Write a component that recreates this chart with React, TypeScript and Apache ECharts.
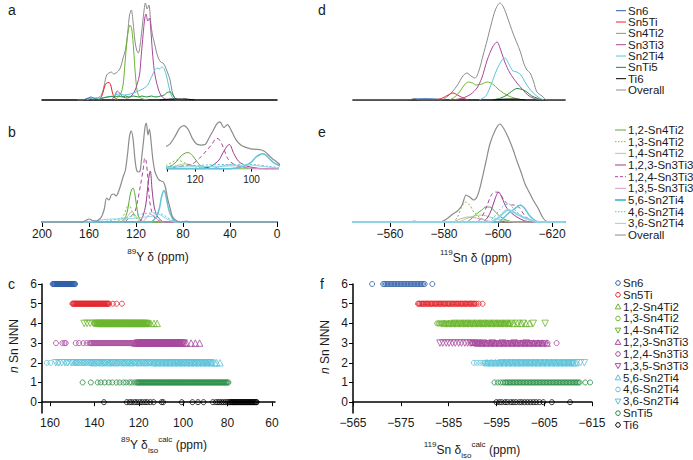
import React, { useEffect, useRef } from "react";
import * as echarts from "echarts";

const FONT = "'Liberation Sans', Arial, Helvetica, sans-serif";

// ---------- Panel a : 89Y spectra by composition (ppm, intensity) ----------
const aOverall = [[170,0],[165,0],[162,1.5],[160,2],[157,1],[154,1.5],[151,3],[149,6],[147,15],[145,25],[143,27],[141,28],[139,26],[137,27],[135,29],[133,33],[131,42],[129,50],[127,68],[125.5,85],[124,90],[122.5,78],[121,60],[119.5,50],[118,47],[116.5,55],[115,70],[113.5,86],[112,97],[110.5,91],[109,95],[107.5,78],[106,65],[104.5,58],[103,50],[101,42],[99,38],[97,37],[95,33],[93,27],[91,20],[89.5,10],[88,4],[86,1],[83,0],[78,1],[75,0]];
const aSn6 = [[165,0],[161,1.5],[158.5,3],[156,2],[152,0.5],[149,0]];
const aSn5Ti = [[153,0],[150,2],[148,8],[146.5,14],[145,17],[143,17.5],[141.5,15],[140,7],[138,2],[135,0]];
const aSn4Ti2 = [[138,0],[135,3],[133,6],[131,15],[129.5,35],[128,55],[126.5,70],[125,75],[123.5,70],[122,50],[120.5,25],[119,9],[117,3],[114,1],[110,0]];
const aSn3Ti3 = [[141,0],[138,4],[136,9],[134,7],[131,3],[127,2],[124,4],[121,9],[119,16],[117,25],[115.5,45],[114,65],[112.5,82],[111.5,86],[110,79],[108.5,82],[107.5,72],[106,48],[104.5,30],[103,20],[101,11],[99,5],[96,1.5],[92,0]];
const aSn2Ti4 = [[162,0],[159,1.5],[155,2],[150,2],[145,3],[140,4],[135,6],[130,5],[125,6],[120,8],[116,10],[113,12],[110,15],[108,20],[106,25],[104,30],[102,32],[100,31],[98,33],[96,31],[94,24],[92,13],[90,5],[88,1.5],[85,0]];
const aSnTi5 = [[152,0],[148,2],[144,3],[141,3.5],[138,3],[135,4],[132,3],[129,4],[126,3],[122,4],[118,3],[115,4],[111,3],[107,4],[103,3],[99,4],[96,5],[93.5,7.5],[91,8],[89,6],[87,2],[84,0]];
const aTi6 = [[100,0],[95,0.5],[90,1],[84,1],[78,1],[74,0.5],[70,0]];

// ---------- Panel b : 89Y spectra by configuration ----------
const bOverall = [[200,0],[166,0],[162,2],[160,3],[157,1.5],[154,1],[151,3],[149,6],[147,13],[145,24],[143,22],[141,27],[139,28],[137,26],[135,30],[133,37],[131,45],[129,52],[127,70],[125.5,86],[124,91],[122.5,83],[121,64],[119.5,52],[118,50],[116.5,51],[115,66],[113.5,82],[112.3,95],[111.2,99],[109.8,87],[108.6,93],[107.3,82],[105.6,62],[103.8,50],[102,45],[100.3,42],[98.5,41],[96.7,40],[95,35],[93,23],[91,14],[89.5,7],[87.5,3],[85,1],[82,0],[77,1],[74,0],[0,0]];
const b12Sn4Ti2 = [[200,0],[133,0],[130,3],[128,8],[126.5,16],[125,27],[123.5,33],[122.5,34],[121,28],[119.5,16],[118,6],[116,2],[113,0],[0,0]];
const b13Sn4Ti2 = [[200,0],[137,0],[133,3],[130,8],[128,14],[126.5,18],[125,16],[123,10],[120,4],[117,1],[114,0],[0,0]];
const b14Sn4Ti2 = [[200,0],[132,0],[128,4],[125,9],[123,10],[121,7],[118,3],[115,0],[0,0]];
const b123Sn3Ti3 = [[200,0],[118,0],[114.4,5],[111.6,18],[110,35],[108.5,49],[107.8,51],[106.3,32],[104.5,15],[102,6],[99,2],[96,0],[0,0]];
const b124Sn3Ti3 = [[200,0],[130,0],[127,3],[124,6],[121,10],[118.5,22],[116,38],[114,52],[112.5,64],[111.5,62],[110,45],[108.5,22],[106.5,10],[104,4],[100,1],[96,0],[0,0]];
const b135Sn3Ti3 = [[200,0],[115,0],[112,3],[110,6],[108,8],[106,7],[103,4],[100,1],[97,0],[0,0]];
const b56Sn2Ti4 = [[200,0],[108,0],[104,3],[102,7],[100,14],[98.5,24],[97,30],[96,31.5],[95,29],[93.5,20],[92,12],[90,6],[88,2],[85,0],[0,0]];
const b46Sn2Ti4 = [[200,0],[150,0],[140,2],[130,4],[122,6],[115,8],[108,9],[102,9],[98,8],[94,5],[90,2],[86,0],[0,0]];
const b36Sn2Ti4 = [[200,0],[160,0],[150,2],[140,3],[130,3],[120,4],[112,5],[106,6],[102,8],[99,7],[95,4],[90,1],[87,0],[0,0]];

// ---------- Panel d : 119Sn spectra by composition ----------
const dOverall = [[-546,0],[-567,0],[-569,1.5],[-571,0],[-579,0],[-581,3],[-583,8],[-585,15],[-587,24],[-588.5,27],[-590,24],[-591.5,22],[-593,30],[-594.5,45],[-596,60],[-597.5,76],[-599,90],[-600.7,97],[-602,93],[-603.7,81],[-605.5,67],[-607,57],[-608.3,48],[-609.5,37],[-610.7,30],[-611.9,27],[-613.2,18],[-614.4,8],[-616.3,4],[-618,0],[-625,0]];
const dSn6 = [[-567,0],[-570,1],[-574,1.2],[-578,0.8],[-581,0]];
const dSn5Ti = [[-577,0],[-579.5,2],[-581.5,5],[-583.3,7],[-585,5],[-587,2],[-589,0]];
const dSn4Ti2 = [[-582,0],[-584,3],[-586,9],[-587.5,15],[-589,18],[-590.5,17],[-592,15],[-594,16],[-596,18],[-598,16],[-600,11],[-602,7],[-604,4],[-606,2],[-609,0]];
const dSn3Ti3 = [[-583,0],[-587,2],[-590,6],[-592.2,12],[-594,22],[-596,40],[-598,53],[-599.6,58],[-601,50],[-602.5,38],[-604.4,27],[-607,17],[-609.3,10],[-611,5],[-613,2],[-616,0]];
const dSn2Ti4 = [[-593,0],[-595.5,4],[-597.5,16],[-599.5,30],[-601.5,40],[-602.6,42],[-604,36],[-605.5,29],[-607,28],[-608.5,25],[-610,18],[-612,10],[-614.8,3],[-617,0]];
const dSnTi5 = [[-598,0],[-601,2],[-603.3,5],[-605,8.5],[-607,11.5],[-609,10.5],[-610.7,8],[-612.5,4],[-614.4,2],[-616,0]];
const dTi6 = [[-598,0],[-602,0.8],[-606,1],[-610,0]];

// ---------- Panel e : 119Sn spectra by configuration ----------
const eOverall = [[-546,0],[-567,0],[-569,1],[-571,0],[-578.5,0],[-581,3],[-583.3,8],[-585,11],[-586.7,17],[-588.2,27],[-589.5,25],[-591,22],[-592.5,27],[-594,42],[-595.5,60],[-597,78],[-599,92],[-600.7,98],[-602,94],[-603.7,85],[-605.5,73],[-607,61],[-608.5,50],[-610,38],[-611.5,30],[-613,22],[-614.8,14],[-616.7,4],[-618.5,0],[-625,0]];
const e12Sn4Ti2 = [[-546,0],[-588,0],[-590,3],[-592,8],[-594,12],[-595.5,15],[-597,15],[-599,10],[-601,5],[-603,2],[-606,0],[-625,0]];
const e13Sn4Ti2 = [[-546,0],[-583,0],[-585,5],[-586.5,15],[-588,20],[-589.5,17],[-591,10],[-593,5],[-595,2],[-598,0],[-625,0]];
const e14Sn4Ti2 = [[-546,0],[-585,0],[-588,3],[-591,6],[-594,7],[-597,5],[-600,3],[-603,1],[-606,0],[-625,0]];
const e123Sn3Ti3 = [[-546,0],[-594,0],[-596,4],[-597.5,12],[-599,24],[-600.2,30],[-601.5,24],[-603,15],[-605,9],[-607,5],[-610,1],[-613,0],[-625,0]];
const e124Sn3Ti3 = [[-546,0],[-592,0],[-594,5],[-596,17],[-597.5,27],[-599,30],[-600.5,29],[-602,23],[-603.5,18],[-605,17],[-606.5,17],[-608,14],[-610,6],[-612,2],[-614,0],[-625,0]];
const e135Sn3Ti3 = [[-546,0],[-583,0],[-586,3],[-589,5],[-592,4],[-595,2],[-598,0],[-625,0]];
const e56Sn2Ti4 = [[-546,0],[-600,0],[-602,4],[-604,9],[-605.5,12],[-607,15],[-608.3,17],[-610,13],[-611.5,7],[-613,3],[-615,0],[-625,0]];
const e46Sn2Ti4 = [[-546,0],[-596,0],[-598.5,5],[-600.5,12],[-602.5,17],[-604,18],[-605.5,14],[-607,10],[-609,6],[-611,3],[-614,0],[-625,0]];
const e36Sn2Ti4 = [[-546,0],[-597,0],[-600,4],[-602,9],[-603.5,12],[-605,11],[-607,8],[-609,5],[-612,2],[-615,0],[-625,0]];

// ---------- Panel c : calculated 89Y shifts, by n Sn NNN ----------
const cSn6 = [158.8,158.5,158.3,158.0,157.8,157.5,157.2,157.0,156.7,156.5,156.2,155.9,155.7,155.4,155.2,154.9,154.6,154.4,154.1,153.9,153.6,153.3,153.1,152.8,152.6,152.3,152.0,151.8,151.5,151.3,151.0,150.7,150.5,150.2,150.0,149.7,149.4,149.2,148.9,148.7];
const cSn5Ti = [149.9,149.6,149.3,149.0,148.7,148.4,148.1,147.8,147.5,147.2,146.9,146.6,146.3,146.0,145.7,145.4,145.1,144.8,144.5,144.2,143.9,143.6,143.3,143.0,142.7,142.4,142.1,141.8,141.5,141.2,140.9,140.6,140.3,140.0,139.7,139.4,139.1,138.8,138.5,138.2,137.9,137.6,137.3,137.0,136.7,136.4,136.1,135.8,135.5,135.2,134.9,134.6,134.3,134.0,133.7,133.4,131.6,130.0,127.6];
const c12Sn4Ti2 = [138.4,137.5,136.6,135.7,134.7,133.8,132.9,132.0,131.0,130.1,129.2,128.3,127.3,126.4,125.5,124.6,123.6,122.7,121.8,120.9,119.9,119.0,118.1,117.2,116.2,114.6,113.1,111.7];
const c13Sn4Ti2 = [140.1,139.7,139.3,138.9,138.5,138.1,137.7,137.3,136.9,136.5,136.1,135.7,135.3,134.9,134.5,134.1,133.7,133.3,132.9,132.5,132.1,131.7,131.3,130.9,130.5,130.1,129.7,129.3,128.9,128.5,128.1,127.7,127.3,126.9,126.5,126.1,125.7,125.3,124.9,124.5,124.1,123.7,123.3,122.9,122.5,122.1,121.7,121.3,120.9,120.5,120.1,119.7,119.3,118.9,118.5,118.1,117.7,117.3,116.9,116.5,116.1,115.7,115.4];
const c14Sn4Ti2 = [144.6,143.3,141.9,140.4,139.2,138.4,137.6,136.8,136.1,135.3,134.5,133.6,132.8,132.0,131.2,130.3,129.5,128.6,127.7,126.8,125.9,125.0,124.0,123.1,122.1,121.2,120.2,119.3,118.3,117.4,116.4];
const c123Sn3Ti3 = [121.7,120.8,119.9,119.0,118.1,117.2,116.3,115.4,114.5,113.6,112.7,111.8,110.9,110.0,109.1,108.2,107.3,106.4,105.5,104.6,103.7,102.8,101.9,101.0,100.1,99.3,98.5,96.4,94.5,92.6];
const c124Sn3Ti3 = [157.3,154.4,153.5,152.9,148.4,146.9,145.0,143.5,142.2,141.8,141.3,140.9,140.4,140.0,139.5,139.1,138.6,138.2,137.7,137.3,136.8,136.4,135.9,135.5,135.0,134.6,134.1,133.7,133.2,132.8,132.3,131.9,131.4,131.0,130.5,130.1,129.6,129.2,128.7,128.3,127.8,127.4,126.9,126.5,126.0,125.6,125.1,124.7,124.2,123.8,123.3,122.9,122.4,122.0,121.5,121.1,120.6,120.2,119.7,119.3,118.8,118.4,117.9,117.5,117.0,116.6,116.1,115.7,115.2,114.8,114.3,113.9,113.4,113.0,112.5,112.1,111.6,111.2,110.7,110.3,109.8,109.4,108.9,108.5,108.0,107.6,107.1,106.7,106.2,105.8,105.3,104.9,104.4,104.0,103.5,103.1,102.6,102.2,101.7,101.3];
const c135Sn3Ti3 = [120.6,119.9,119.2,118.5,117.8,117.1,116.4,115.7,115.0,114.3,113.6,112.9,112.2,111.5,110.8,110.1,109.4,108.7,108.0,107.3,106.6,105.9,105.2,104.5,103.8,103.1,102.4,101.7,101.0,100.3,99.6];
const c56Sn2Ti4 = [140.3,136.7,133.4,130.2,126.6,123.5,119.9,116.7,113.2,111.5,109.5,107.8,105.8,104.1,102.1,100.4,98.4,96.7,94.7,93.0,91.0,89.3,87.3,85.7,84.9,83.4];
const c46Sn2Ti4 = [161.4,159.8,156.3,152.4,148.2,144.7,141.3,138.2,135.5,132.5,129.7,127.0,124.6,121.7,119.5,117.2,115.0,113.1,111.3,109.4,107.7,106.2,104.4,102.8,101.4,99.6,98.2,96.4,95.0,93.2,91.8,90.0,88.7,87.1];
const c36Sn2Ti4 = [157.4,156.1,154.7,153.3,152.0,150.5,149.8,149.1,148.4,147.7,147.0,146.3,145.6,144.9,144.2,143.5,142.8,142.1,141.4,140.7,140.0,139.3,138.6,137.9,137.2,136.5,135.8,135.1,134.4,133.7,133.0,132.3,131.6,130.9,130.2,129.5,128.8,128.1,127.4,126.7,126.0,125.3,124.6,123.9,123.2,122.5,121.8,121.1,120.4,119.7,119.0,118.3,117.6,116.9,116.2,115.5,114.8,114.1,113.4,112.7,112.0,111.3,110.6,109.9,109.2,108.5,107.8,107.1,106.4,105.7,105.0,104.3,103.6,102.9,102.2,101.5,100.8,100.1,99.4,98.7,98.0,97.3,96.6,95.9,95.2,94.5,93.8,93.1,92.4,91.7,91.0,90.3,89.6,88.9,88.2,87.6];
const cSnTi5 = [145.3,141.6,138.5,137.1,135.3,133.5,131.9,130.0,128.6,126.9,125.7,124.2,123.2,121.9,121.0,120.5,120.1,119.6,119.2,118.7,118.3,117.8,117.4,116.9,116.5,116.0,115.6,115.1,114.7,114.2,113.8,113.3,112.9,112.4,112.0,111.5,111.1,110.6,110.2,109.7,109.3,108.8,108.4,107.9,107.5,107.0,106.6,106.1,105.7,105.2,104.8,104.3,103.9,103.4,103.0,102.5,102.1,101.6,101.2,100.7,100.3,99.8,99.4,98.9,98.5,98.0,97.6,97.1,96.7,96.2,95.8,95.3,94.9,94.4,94.0,93.5,93.1,92.6,92.2,91.7,91.3,90.8,90.4,89.9,89.5,89.0,88.6,88.1,87.7,87.2,86.8,86.3,85.9,85.4,85.0,84.5,84.1,83.6,83.2,82.7,82.3,81.8,81.4,80.9,80.5,80.0,79.6];
const cTi6 = [135.7,125.4,124.1,123.1,121.8,120.8,119.5,118.5,117.2,116.2,114.8,113.3,109.7,109.0,100.6,95.8,93.3,90.8,86.6,85.2,84.3,83.5,82.6,81.9,81.0,80.2,79.5,79.0,78.6,78.3,77.9,77.6,77.2,76.9,76.5,76.2,75.8,75.5,75.1,74.8,74.4,74.1,73.7,73.4,73.0,72.7,72.3,72.0,71.6,71.3,70.9,70.6,70.2,69.9,69.5,69.2,68.8,68.5,68.1,67.8,67.4,67.1,66.8];

// ---------- Panel f : calculated 119Sn shifts, by n Sn NNN ----------
const fSn6 = [-569.0,-571.3,-571.6,-571.9,-572.2,-572.5,-572.8,-573.1,-573.4,-573.7,-574.0,-574.3,-574.6,-574.9,-575.2,-575.5,-575.8,-576.1,-576.4,-576.7,-577.0,-577.3,-577.6,-577.9,-578.2,-578.5,-578.8,-579.1,-579.4,-579.7,-580.0,-581.6];
const fSn5Ti = [-578.6,-578.8,-579.0,-579.3,-579.5,-579.7,-579.9,-580.2,-580.4,-580.6,-580.8,-581.1,-581.3,-581.5,-581.7,-582.0,-582.2,-582.4,-582.6,-582.9,-583.1,-583.3,-583.5,-583.8,-584.0,-584.2,-584.4,-584.7,-584.9,-585.1,-585.3,-585.6,-585.8,-586.0,-586.2,-586.5,-586.7,-586.9,-587.1,-587.4,-587.6,-587.8,-588.0,-588.3,-588.5,-588.7,-588.9,-589.2,-589.4,-589.6,-589.8,-590.1,-590.3,-590.5,-590.8,-591.3,-592.1];
const f12Sn4Ti2 = [-584.1,-585.0,-585.9,-586.8,-587.7,-588.6,-589.5,-590.4,-591.3,-592.2,-593.1,-594.0,-594.9,-595.8,-596.7,-597.6,-598.5,-599.4,-600.3,-601.2,-601.9];
const f13Sn4Ti2 = [-582.6,-582.9,-583.1,-583.4,-583.6,-583.9,-584.1,-584.4,-584.6,-584.9,-585.1,-585.4,-585.6,-585.9,-586.1,-586.4,-586.6,-586.9,-587.1,-587.4,-587.6,-587.9,-588.1,-588.4,-588.6,-588.9,-589.1,-589.4,-589.6,-589.9,-590.1,-590.4,-590.6,-590.9,-591.1,-591.4,-591.6,-591.9,-592.1,-592.4,-592.6,-592.9,-593.1,-593.4,-593.6,-593.9,-594.1,-594.4,-594.6,-594.9,-595.1,-595.4,-595.6,-595.9,-596.1,-596.4,-596.6,-596.9,-597.1,-597.4,-597.6,-597.9];
const f14Sn4Ti2 = [-586.2,-587.4,-588.6,-589.8,-591.0,-592.2,-593.4,-594.6,-595.8,-597.0,-598.2,-599.4,-600.6,-602.7,-605.2];
const f123Sn3Ti3 = [-591.1,-592.0,-592.9,-593.8,-594.7,-595.6,-596.5,-597.4,-598.3,-599.2,-600.1,-601.0,-601.9,-602.8,-603.7,-604.6,-605.6];
const f124Sn3Ti3 = [-589.6,-589.9,-590.1,-590.4,-590.6,-590.9,-591.1,-591.4,-591.6,-591.9,-592.1,-592.4,-592.6,-592.9,-593.1,-593.4,-593.6,-593.9,-594.1,-594.4,-594.6,-594.9,-595.1,-595.4,-595.6,-595.9,-596.1,-596.4,-596.6,-596.9,-597.1,-597.4,-597.6,-597.9,-598.1,-598.4,-598.6,-598.9,-599.1,-599.4,-599.6,-599.9,-600.1,-600.4,-600.6,-600.9,-601.1,-601.4,-601.6,-601.9,-602.1,-602.4,-602.6,-602.9,-603.1,-603.4,-603.6,-603.9,-604.1,-604.4,-604.6,-604.9,-605.2,-605.7,-607.6];
const f135Sn3Ti3 = [-583.2,-583.8,-584.5,-585.1,-585.8,-586.4,-587.1,-587.7,-588.4,-589.0,-589.7,-590.3,-591.0,-592.2,-594.1,-596.3,-598.7,-601.2];
const f56Sn2Ti4 = [-593.0,-593.9,-594.8,-595.7,-596.6,-597.5,-598.4,-599.3,-600.2,-601.1,-602.0,-602.9,-603.8,-604.7,-605.6,-606.5,-607.4,-608.3,-609.2,-610.1,-611.0,-611.6];
const f46Sn2Ti4 = [-590.3,-590.9,-591.6,-592.2,-592.5,-592.8,-593.1,-593.4,-593.7,-594.0,-594.3,-594.6,-594.9,-595.2,-595.5,-595.8,-596.1,-596.4,-596.7,-597.0,-597.3,-597.6,-597.9,-598.2,-598.5,-598.8,-599.1,-599.4,-599.7,-600.0,-600.3,-600.6,-600.9,-601.2,-601.5,-601.8,-602.1,-602.4,-602.7,-603.0,-603.3,-603.6,-603.9,-604.2,-604.5,-604.8,-605.1,-605.4,-605.7,-606.0,-606.3,-606.6,-606.9,-607.2,-607.5,-607.8,-608.1,-608.4,-608.7,-609.0,-609.3,-609.6,-609.9,-610.2,-610.5,-610.8,-611.1];
const f36Sn2Ti4 = [-596.1,-597.1,-598.1,-599.1,-600.1,-601.1,-602.1,-603.1,-604.1,-605.1,-606.1,-607.1,-608.1,-609.1,-610.1,-610.9,-611.8,-612.6,-613.4];
const fSnTi5 = [-594.6,-595.3,-595.9,-596.4,-596.8,-597.1,-597.4,-597.7,-598.0,-598.3,-598.6,-598.9,-599.2,-599.5,-599.8,-600.1,-600.4,-600.7,-601.0,-601.3,-601.6,-601.9,-602.2,-602.5,-602.8,-603.1,-603.4,-603.7,-604.0,-604.3,-604.6,-604.9,-605.2,-605.5,-605.8,-606.1,-606.4,-606.7,-607.0,-607.3,-607.6,-607.9,-608.2,-608.5,-608.8,-609.1,-609.4,-609.7,-610.0,-610.3,-610.6,-610.9,-611.2,-611.5,-611.8,-612.1,-612.4,-613.6,-614.6];
const fTi6 = [-595.0,-595.6,-596.1,-596.8,-597.3,-598.0,-598.5,-599.1,-599.8,-600.3,-600.9,-601.5,-602.1,-602.7,-603.3,-604.0,-604.8,-606.6,-610.4];

// ---------- axis ticks ----------
const yTicks89 = [0, 40, 80, 120, 160, 200];
const insetTicks = [130, 120, 110, 100];
const insetLabels = [120, 100];
const cTicks = [160, 140, 120, 100, 80, 60];
const eTicks = [-560, -580, -600, -620];
const fTicks = [-565, -575, -585, -595, -605, -615];
const nTicks = [0, 1, 2, 3, 4, 5, 6];

// ---------- colours ----------
const COL = {
  sn6: "#2f5ca8",
  sn5: "#e2262c",
  sn4: "#6cb52e",
  sn3: "#a8489c",
  sn2: "#5cc3d9",
  snti5: "#1e8a3c",
  ti6: "#000000",
  overall: "#8c8c8c",
  g12: "#5ea936",
  g13: "#7cbc4c",
  g14: "#a9d28c",
  m123: "#9b3b8f",
  m124: "#a8489c",
  m135: "#d69bca",
  c56: "#62c3d9",
  c46: "#5cc0d6",
  c36: "#8fd4e4",
};

function line(name: string, data: number[][], color: string, idx: number, width = 1, dash?: number[] | string) {
  return {
    type: "line",
    name,
    xAxisIndex: idx,
    yAxisIndex: idx,
    data,
    smooth: 0.3,
    symbol: "none",
    silent: true,
    lineStyle: { color, width, type: dash || "solid" },
  };
}

function scat(name: string, xs: number[], row: number, color: string, shape: string, idx: number) {
  const tri = shape !== "circle";
  return {
    type: "scatter",
    name,
    xAxisIndex: idx,
    yAxisIndex: idx,
    data: xs.map((v) => [v, row]),
    symbol: tri ? "triangle" : "circle",
    symbolSize: tri ? 6.5 : 5,
    symbolRotate: shape === "down" ? 180 : 0,
    silent: true,
    itemStyle: { color: "rgba(0,0,0,0)", borderColor: color, borderWidth: 1 },
  };
}

const lbl = { color: "#1a1a1a", fontSize: 12, fontFamily: FONT };

function hiddenAxis(idx: number, min: number, max: number, inverse = false) {
  return { gridIndex: idx, type: "value", min, max, inverse, show: false };
}

function txt(x: number, y: number, text: string, size = 12, align = "left", rich?: any, rotation = 0) {
  return {
    type: "text",
    x,
    y,
    rotation,
    silent: true,
    style: {
      text,
      font: `${size}px ${FONT}`,
      fill: "#1a1a1a",
      textAlign: align,
      align,
      textVerticalAlign: "middle",
      verticalAlign: "middle",
      rich,
    },
  };
}

const richT = {
  n: { fontSize: 12, fontFamily: FONT, color: "#1a1a1a", lineHeight: 16, verticalAlign: "bottom" },
  sup: { fontSize: 8, fontFamily: FONT, color: "#1a1a1a", lineHeight: 16, verticalAlign: "top" },
  sub: { fontSize: 8, fontFamily: FONT, color: "#1a1a1a", lineHeight: 16, verticalAlign: "bottom", padding: [0, 0, -3, 0] },
  i: { fontSize: 12, fontFamily: FONT, color: "#1a1a1a", lineHeight: 16, fontStyle: "italic", verticalAlign: "bottom" },
};

const legendA = [
  ["Sn6", COL.sn6, 1, null],
  ["Sn5Ti", COL.sn5, 1, null],
  ["Sn4Ti2", COL.sn4, 1, null],
  ["Sn3Ti3", COL.sn3, 1, null],
  ["Sn2Ti4", COL.sn2, 1, null],
  ["SnTi5", COL.snti5, 1, null],
  ["Ti6", COL.ti6, 1, null],
  ["Overall", COL.overall, 1, null],
];
const legendB = [
  ["1,2-Sn4Ti2", COL.g12, 1, null],
  ["1,3-Sn4Ti2", COL.g13, 1, [1.5, 1.5]],
  ["1,4-Sn4Ti2", COL.g14, 1, null],
  ["1,2,3-Sn3Ti3", COL.m123, 1, null],
  ["1,2,4-Sn3Ti3", COL.m124, 1, [3, 2]],
  ["1,3,5-Sn3Ti3", COL.m135, 1, null],
  ["5,6-Sn2Ti4", COL.c56, 2, null],
  ["4,6-Sn2Ti4", COL.c46, 1, [1.5, 1.5]],
  ["3,6-Sn2Ti4", COL.c36, 1, null],
  ["Overall", COL.overall, 1, null],
];
const legendC = [
  ["Sn6", COL.sn6, "circle"],
  ["Sn5Ti", COL.sn5, "circle"],
  ["1,2-Sn4Ti2", COL.sn4, "up"],
  ["1,3-Sn4Ti2", COL.sn4, "circle"],
  ["1,4-Sn4Ti2", COL.sn4, "down"],
  ["1,2,3-Sn3Ti3", COL.sn3, "up"],
  ["1,2,4-Sn3Ti3", COL.sn3, "circle"],
  ["1,3,5-Sn3Ti3", COL.sn3, "down"],
  ["5,6-Sn2Ti4", COL.sn2, "up"],
  ["4,6-Sn2Ti4", COL.sn2, "circle"],
  ["3,6-Sn2Ti4", COL.sn2, "down"],
  ["SnTi5", COL.snti5, "circle"],
  ["Ti6", COL.ti6, "circle"],
];

function buildGraphics() {
  const g: any[] = [];
  legendA.forEach((it: any, i) => {
    const y = 10.7 + 11.33 * i;
    g.push({ type: "line", silent: true, shape: { x1: 616, y1: y, x2: 626, y2: y }, style: { stroke: it[1], lineWidth: it[2] } });
    g.push(txt(628, y, it[0], 11.5));
  });
  legendB.forEach((it: any, i) => {
    const y = 130 + 11.67 * i;
    const st: any = { stroke: it[1], lineWidth: it[2] };
    if (it[3]) st.lineDash = it[3];
    g.push({ type: "line", silent: true, shape: { x1: 615, y1: y, x2: 626, y2: y }, style: st });
    g.push(txt(628, y, it[0], 11.5));
  });
  legendC.forEach((it: any, i) => {
    const y = 283 + 11.83 * i;
    const x = 618;
    if (it[2] === "circle") {
      g.push({ type: "circle", silent: true, shape: { cx: x, cy: y, r: 2.3 }, style: { fill: "none", stroke: it[1], lineWidth: 1 } });
    } else if (it[2] === "up") {
      g.push({ type: "polygon", silent: true, shape: { points: [[x, y - 2.8], [x + 2.8, y + 2.2], [x - 2.8, y + 2.2]] }, style: { fill: "none", stroke: it[1], lineWidth: 1 } });
    } else {
      g.push({ type: "polygon", silent: true, shape: { points: [[x, y + 2.8], [x + 2.8, y - 2.2], [x - 2.8, y - 2.2]] }, style: { fill: "none", stroke: it[1], lineWidth: 1 } });
    }
    g.push(txt(623, y, it[0], 11.5));
  });
  g.push(txt(8, 10, "a", 14));
  g.push(txt(8, 132, "b", 14));
  g.push(txt(8, 284, "c", 14));
  g.push(txt(318, 10, "d", 14));
  g.push(txt(318, 132, "e", 14));
  g.push(txt(320, 284, "f", 14));
  g.push(txt(158, 255, "{sup|89}{n|Y δ (ppm)}", 12, "center", richT));
  g.push(txt(476, 256, "{sup|119}{n|Sn δ (ppm)}", 12, "center", richT));
  g.push(txt(164, 443, "{sup|89}{n|Y δ}{sub|iso}{sup|calc}{n| (ppm)}", 12, "center", richT));
  g.push(txt(472, 448, "{sup|119}{n|Sn δ}{sub|iso}{sup|calc}{n| (ppm)}", 12, "center", richT));
  g.push(txt(12, 346, "{i|n}{n| Sn NNN}", 12, "center", richT, Math.PI / 2));
  g.push(txt(323, 347, "{i|n}{n| Sn NNN}", 12, "center", richT, Math.PI / 2));
  return g;
}

function buildOption() {
  const grids = [
    { left: 42, top: 2, width: 235, height: 98 },
    { left: 42, top: 123, width: 235, height: 101 },
    { left: 167, top: 120, width: 111, height: 51 },
    { left: 42, top: 284, width: 233, height: 129 },
    { left: 353, top: 2, width: 212, height: 98 },
    { left: 353, top: 123, width: 212, height: 101 },
    { left: 353, top: 284, width: 239, height: 129 },
  ].map((g) => ({ ...g, containLabel: false, outerBoundsMode: "none", show: false }));

  const axLine = { show: true, lineStyle: { color: "#000", width: 1.5 } };
  const tick = (len: number, vals?: number[]) => ({ show: true, length: len, lineStyle: { color: "#000", width: 1 }, ...(vals ? { customValues: vals } : {}) });
  const minus = (v: number) => String(v).replace("-", "\u2212");

  const xAxis = [
    { gridIndex: 0, type: "value", min: 0, max: 200, inverse: true, axisLine: axLine, axisTick: { show: false }, axisLabel: { show: false }, splitLine: { show: false } },
    { gridIndex: 1, type: "value", min: 0, max: 200, inverse: true, axisLine: axLine, axisTick: tick(5, yTicks89), axisLabel: { ...lbl, margin: 4, customValues: yTicks89 }, splitLine: { show: false } },
    { gridIndex: 2, type: "value", min: 90.6, max: 130, inverse: true, axisLine: { show: true, lineStyle: { color: "#000", width: 1 } }, axisTick: tick(3, insetTicks), axisLabel: { ...lbl, fontSize: 10, margin: 3, customValues: insetLabels }, splitLine: { show: false } },
    { gridIndex: 3, type: "value", min: 58.6, max: 163.6, inverse: true, axisLine: axLine, axisTick: tick(4, cTicks), axisLabel: { ...lbl, margin: 4, customValues: cTicks }, splitLine: { show: false } },
    { gridIndex: 4, type: "value", min: -624.8, max: -546.3, inverse: true, axisLine: axLine, axisTick: { show: false }, axisLabel: { show: false }, splitLine: { show: false } },
    { gridIndex: 5, type: "value", min: -624.8, max: -546.3, inverse: true, axisLine: axLine, axisTick: tick(5, eTicks), axisLabel: { ...lbl, margin: 4, customValues: eTicks, formatter: minus }, splitLine: { show: false } },
    { gridIndex: 6, type: "value", min: -615, max: -565, inverse: true, axisLine: axLine, axisTick: tick(4, fTicks), axisLabel: { ...lbl, margin: 4, customValues: fTicks, formatter: minus }, splitLine: { show: false } },
  ];
  const nAxis = (idx: number) => ({
    gridIndex: idx, type: "value", min: -0.55, max: 6, axisLine: axLine, axisTick: tick(4, nTicks),
    axisLabel: { ...lbl, margin: 5, customValues: nTicks }, splitLine: { show: false },
  });
  const yAxis = [
    hiddenAxis(0, 0, 98),
    hiddenAxis(1, -2, 99),
    hiddenAxis(2, -5, 103),
    nAxis(3),
    hiddenAxis(4, 0, 98),
    hiddenAxis(5, -2, 99),
    nAxis(6),
  ];

  const bSeries = (idx: number) => [
    line("1,2-Sn4Ti2", b12Sn4Ti2, COL.g12, idx),
    line("1,3-Sn4Ti2", b13Sn4Ti2, COL.g13, idx, 1, [2, 2]),
    line("1,4-Sn4Ti2", b14Sn4Ti2, COL.g14, idx),
    line("1,2,3-Sn3Ti3", b123Sn3Ti3, COL.m123, idx),
    line("1,2,4-Sn3Ti3", b124Sn3Ti3, COL.m124, idx, 1, [4, 3]),
    line("1,3,5-Sn3Ti3", b135Sn3Ti3, COL.m135, idx),
    line("5,6-Sn2Ti4", b56Sn2Ti4, COL.c56, idx, 1.5),
    line("4,6-Sn2Ti4", b46Sn2Ti4, COL.c46, idx, 1, [2, 2]),
    line("3,6-Sn2Ti4", b36Sn2Ti4, COL.c36, idx),
    line("Overall", bOverall, COL.overall, idx, 1.2),
  ];

  const series: any[] = [
    line("Overall", aOverall, COL.overall, 0),
    line("Sn6", aSn6, COL.sn6, 0),
    line("Sn5Ti", aSn5Ti, COL.sn5, 0),
    line("Sn4Ti2", aSn4Ti2, COL.sn4, 0),
    line("Sn3Ti3", aSn3Ti3, COL.sn3, 0),
    line("Sn2Ti4", aSn2Ti4, COL.sn2, 0),
    line("SnTi5", aSnTi5, COL.snti5, 0),
    line("Ti6", aTi6, COL.ti6, 0),
    ...bSeries(1),
    ...bSeries(2),
    scat("Sn6", cSn6, 6, COL.sn6, "circle", 3),
    scat("Sn5Ti", cSn5Ti, 5, COL.sn5, "circle", 3),
    scat("1,4-Sn4Ti2", c14Sn4Ti2, 4, COL.sn4, "down", 3),
    scat("1,3-Sn4Ti2", c13Sn4Ti2, 4, COL.sn4, "circle", 3),
    scat("1,2-Sn4Ti2", c12Sn4Ti2, 4, COL.sn4, "up", 3),
    scat("1,2,4-Sn3Ti3", c124Sn3Ti3, 3, COL.sn3, "circle", 3),
    scat("1,3,5-Sn3Ti3", c135Sn3Ti3, 3, COL.sn3, "down", 3),
    scat("1,2,3-Sn3Ti3", c123Sn3Ti3, 3, COL.sn3, "up", 3),
    scat("4,6-Sn2Ti4", c46Sn2Ti4, 2, COL.sn2, "circle", 3),
    scat("3,6-Sn2Ti4", c36Sn2Ti4, 2, COL.sn2, "down", 3),
    scat("5,6-Sn2Ti4", c56Sn2Ti4, 2, COL.sn2, "up", 3),
    scat("SnTi5", cSnTi5, 1, COL.snti5, "circle", 3),
    scat("Ti6", cTi6, 0, COL.ti6, "circle", 3),
    line("Overall", dOverall, COL.overall, 4),
    line("Sn6", dSn6, COL.sn6, 4),
    line("Sn5Ti", dSn5Ti, COL.sn5, 4),
    line("Sn4Ti2", dSn4Ti2, COL.sn4, 4),
    line("Sn3Ti3", dSn3Ti3, COL.sn3, 4),
    line("Sn2Ti4", dSn2Ti4, COL.sn2, 4),
    line("SnTi5", dSnTi5, COL.snti5, 4),
    line("Ti6", dTi6, COL.ti6, 4),
    line("Overall", eOverall, COL.overall, 5, 1.2),
    line("1,2-Sn4Ti2", e12Sn4Ti2, COL.g12, 5),
    line("1,3-Sn4Ti2", e13Sn4Ti2, COL.g13, 5, 1, [2, 2]),
    line("1,4-Sn4Ti2", e14Sn4Ti2, COL.g14, 5),
    line("1,2,3-Sn3Ti3", e123Sn3Ti3, COL.m123, 5),
    line("1,2,4-Sn3Ti3", e124Sn3Ti3, COL.m124, 5, 1, [4, 3]),
    line("1,3,5-Sn3Ti3", e135Sn3Ti3, COL.m135, 5),
    line("5,6-Sn2Ti4", e56Sn2Ti4, COL.c56, 5, 1.5),
    line("4,6-Sn2Ti4", e46Sn2Ti4, COL.c46, 5, 1, [2, 2]),
    line("3,6-Sn2Ti4", e36Sn2Ti4, COL.c36, 5, 2),
    scat("Sn6", fSn6, 6, COL.sn6, "circle", 6),
    scat("Sn5Ti", fSn5Ti, 5, COL.sn5, "circle", 6),
    scat("1,4-Sn4Ti2", f14Sn4Ti2, 4, COL.sn4, "down", 6),
    scat("1,3-Sn4Ti2", f13Sn4Ti2, 4, COL.sn4, "circle", 6),
    scat("1,2-Sn4Ti2", f12Sn4Ti2, 4, COL.sn4, "up", 6),
    scat("1,3,5-Sn3Ti3", f135Sn3Ti3, 3, COL.sn3, "down", 6),
    scat("1,2,4-Sn3Ti3", f124Sn3Ti3, 3, COL.sn3, "circle", 6),
    scat("1,2,3-Sn3Ti3", f123Sn3Ti3, 3, COL.sn3, "up", 6),
    scat("4,6-Sn2Ti4", f46Sn2Ti4, 2, COL.sn2, "circle", 6),
    scat("3,6-Sn2Ti4", f36Sn2Ti4, 2, COL.sn2, "down", 6),
    scat("5,6-Sn2Ti4", f56Sn2Ti4, 2, COL.sn2, "up", 6),
    scat("SnTi5", fSnTi5, 1, COL.snti5, "circle", 6),
    scat("Ti6", fTi6, 0, COL.ti6, "circle", 6),
  ];

  return {
    animation: false,
    backgroundColor: "#ffffff",
    textStyle: { fontFamily: FONT },
    grid: grids,
    xAxis,
    yAxis,
    series,
    graphic: buildGraphics(),
  };
}

export default function App() {
  const ref = useRef<HTMLDivElement>(null);
  useEffect(() => {
    if (!ref.current) return;
    const chart = echarts.init(ref.current, null, { renderer: "svg" });
    chart.setOption(buildOption() as any);
    return () => chart.dispose();
  }, []);
  return <div ref={ref} style={{ position: "absolute", left: 0, top: 0, width: 693, height: 460 }} />;
}
